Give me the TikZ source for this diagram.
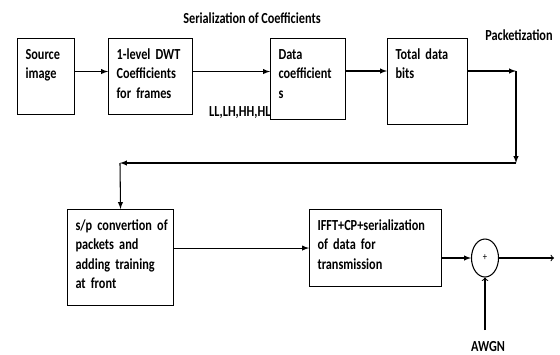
\documentclass[tikz,border=0pt]{standalone}
\usepackage{fontspec}
\newfontfamily\blockfont{Carlito}[FakeStretch=0.8, WordSpace=0.9]
\usetikzlibrary{shapes.geometric}
\hfuzz=20pt
\hyphenpenalty=10000
\begin{document}
\begin{tikzpicture}[x=0.75pt, y=-0.75pt, ->, >=latex, line width=0.8pt,
  every node/.style={font=\blockfont\bfseries\fontsize{11.5pt}{14.5pt}\selectfont},
  blk/.style={draw, anchor=north west, align=left, inner xsep=6pt, inner ysep=6.75pt, text height=9pt}]
\useasboundingbox (0,0) rectangle (560,354);
% first row
\node[blk, text width=30.75pt, text depth=34.5pt] (src) at (17,38) {Source\\image};
\node[blk, text width=51pt, text depth=34.5pt] (dwt) at (108,38) {1-level~DWT\\Coefficients\\for~frames};
\node[blk, text width=44.25pt, text depth=38.25pt] (data) at (270,38) {Data\\coefficient\\s};
\node[blk, text width=48pt, text depth=42pt] (bits) at (387,38) {Total~data\\bits};
% second row
\node[blk, text width=67.5pt, text depth=49.5pt] (sp) at (67,209) {\mbox{s/p convertion of}\\packets~and\\adding~training\\at~front};
\node[blk, text width=87pt, text depth=35.25pt] (ifft) at (309,209) {IFFT+CP+serialization\\of~data~for\\transmission};
\node[draw, ellipse, minimum width=20.25pt, minimum height=28.5pt, inner sep=0pt,
  font=\blockfont\fontsize{8pt}{9pt}\selectfont] (sum) at (485,258) {+};
% labels
\node (ser) at (252,18) {Serialization of Coefficients};
\node (pkt) at (519,35) {Packetization};
\node[anchor=east, inner sep=0pt] (subb) at (271,113) {LL,LH,HH,HL};
\node (awgn) at (488,347) {AWGN};
% corners
\coordinate (pk) at (516,71);
\coordinate (turn) at (516,163);
\coordinate (back) at (120,163);
\coordinate (out) at (554,258);
\coordinate (noise) at (485,330);
% connectors
\draw ([yshift=3.75pt]src.east) -- ([yshift=3.75pt]src.east -| dwt.west);
\draw ([yshift=3.75pt]dwt.east) -- ([yshift=3.75pt]dwt.east -| data.west);
\draw (data.east |- pk) -- (data.east |- pk -| bits.west);
\draw (bits.east |- pk) -- (pk);
\draw (pk) -- (turn);
\draw (turn) -- (back);
\draw (back) -- (sp.north);
\draw (sp.east |- ifft.west) -- (ifft.west);
\draw (ifft.east |- sum.west) -- (sum.west);
\draw[-to] (sum.east) -- (out);
\draw[-to] (noise) -- (sum.south);
\end{tikzpicture}
\end{document}
